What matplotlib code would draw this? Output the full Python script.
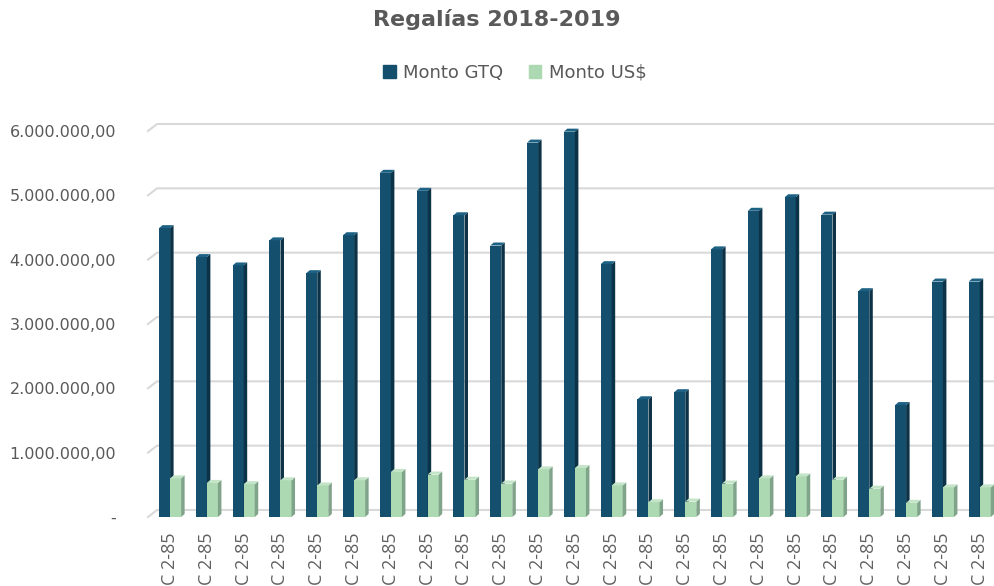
import matplotlib
matplotlib.use("Agg")
import matplotlib.pyplot as plt
from matplotlib.patches import Polygon, Patch
import numpy as np

# data
categorias = ["C 2-85"] * 23
monto_gtq = [4.49e6, 4.04e6, 3.91e6, 4.30e6, 3.79e6, 4.38e6, 5.35e6, 5.07e6,
             4.69e6, 4.22e6, 5.82e6, 5.99e6, 3.93e6, 1.83e6, 1.94e6, 4.16e6,
             4.76e6, 4.97e6, 4.70e6, 3.51e6, 1.74e6, 3.66e6, 3.66e6]
monto_usd = [0.60e6, 0.53e6, 0.51e6, 0.57e6, 0.49e6, 0.57e6, 0.70e6, 0.66e6,
             0.58e6, 0.52e6, 0.74e6, 0.76e6, 0.49e6, 0.23e6, 0.24e6, 0.52e6,
             0.60e6, 0.63e6, 0.58e6, 0.44e6, 0.22e6, 0.46e6, 0.46e6]
y_ticks = [0, 1e6, 2e6, 3e6, 4e6, 5e6, 6e6]
series = ["Monto GTQ", "Monto US$"]

col_gtq = ("#144f6d", "#0b3246", "#1d6284")
col_usd = ("#acd8b2", "#7fa489", "#c3e4c7")
gris = "#595959"

W, H = 994, 586
fig = plt.figure(figsize=(W / 100, H / 100), dpi=100)
ax_l, ax_r, ax_b, ax_t = 148, 990, 517, 131
ax = fig.add_axes([ax_l / W, 1 - ax_b / H, (ax_r - ax_l) / W, (ax_b - ax_t) / H])
xmin, xmax = -0.6, 22.28
ymax = 6e6
ax.set_xlim(xmin, xmax)
ax.set_ylim(0, ymax)

# pixel -> data conversion for the fake 3D depth
px_x = (xmax - xmin) / (ax_r - ax_l)
px_y = ymax / (ax_b - ax_t)

# back-wall gridlines with a small diagonal on the left
gx, gy = 9 * px_x, 7 * px_y
for v in y_ticks:
    ax.plot([xmin, xmin + gx, xmax + 0.3], [v, v + gy, v + gy], color="#d9d9d9",
            lw=1.5, clip_on=False, zorder=0)

x = np.arange(len(categorias))
bw = 0.3
dx, dy = 3.5 * px_x, 3 * px_y


def bar3d(xc, v, cols):
    x0, x1 = xc - bw / 2, xc + bw / 2
    ax.bar(xc, v, width=bw, color=cols[0], zorder=3, clip_on=False)
    ax.add_patch(Polygon([(x1, 0), (x1 + dx, dy), (x1 + dx, v + dy), (x1, v)],
                         closed=True, color=cols[1], zorder=3, lw=0, clip_on=False))
    ax.add_patch(Polygon([(x0, v), (x0 + dx, v + dy), (x1 + dx, v + dy), (x1, v)],
                         closed=True, color=cols[2], zorder=3, lw=0, clip_on=False))


for i in x:
    bar3d(i - bw / 2, monto_gtq[i], col_gtq)
    bar3d(i + bw / 2, monto_usd[i], col_usd)


def fmt(v):
    if v == 0:
        return "-"
    s = f"{v:,.2f}"
    return s.replace(",", "X").replace(".", ",").replace("X", ".")


ax.set_yticks(y_ticks)
ax.set_yticklabels([fmt(v) for v in y_ticks], fontsize=11.5, color=gris,
                   family="DejaVu Sans")
ax.set_xticks(x)
ax.set_xticklabels(categorias, rotation=90, fontsize=13, color="#606060",
                   family="Open Sans", va="top")
ax.tick_params(axis="y", length=0, pad=23)
ax.tick_params(axis="x", length=0, pad=11)
for s in ax.spines.values():
    s.set_visible(False)

fig.text(0.5, 1 - 19 / H, "Regalías 2018-2019", ha="center", va="center",
         fontsize=16, fontweight="bold", color=gris)
handles = [Patch(color=col_gtq[0]), Patch(color=col_usd[0])]
fig.legend(handles, series, loc="center", bbox_to_anchor=(0.518, 1 - 73 / H),
           ncol=2, frameon=False, fontsize=13, labelcolor=gris,
           handlelength=0.7, handleheight=0.7, handletextpad=0.4,
           columnspacing=1.4)

fig.savefig("out.png", dpi=100)
